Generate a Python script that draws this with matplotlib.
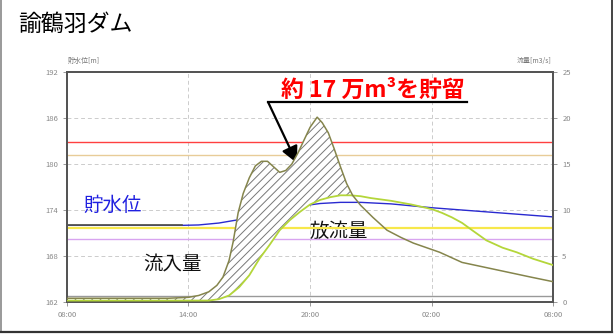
import matplotlib
matplotlib.use("Agg")
import matplotlib.pyplot as plt
from matplotlib.lines import Line2D
import numpy as np

plt.rcParams['font.family'] = ['Noto Sans CJK JP', 'DejaVu Sans']
plt.rcParams['hatch.linewidth'] = 0.7

# hours from 08:00 (8 = 08:00, 32 = next day 08:00)
t_in = [8, 12, 13, 14, 14.5, 15, 15.4, 15.7, 16.0, 16.2, 16.45, 16.7, 17.0, 17.3, 17.6,
        17.9, 18.2, 18.5, 18.8, 19.1, 19.4, 19.7, 20.0, 20.35, 20.6, 20.9, 21.2, 21.5,
        21.8, 22.1, 22.5, 23.1, 23.8, 24.5, 25.1, 26.4, 27.5, 29.2, 30.9, 32]
inflow = [0.4, 0.4, 0.4, 0.5, 0.7, 1.1, 1.8, 2.7, 4.5, 6.5, 9.7, 11.8, 13.5, 14.8, 15.3,
          15.3, 14.7, 14.1, 14.3, 15.0, 16.2, 17.6, 19.0, 20.1, 19.5, 18.4, 16.6, 14.7,
          12.9, 11.6, 10.5, 9.2, 7.8, 7.0, 6.4, 5.4, 4.3, 3.5, 2.7, 2.2]

t_out = [8, 13, 15, 15.5, 16, 16.5, 17, 17.5, 18, 18.5, 19, 19.5, 20, 20.5, 21, 21.5,
         22, 22.5, 23, 24, 25, 26, 26.5, 27, 27.5, 28, 28.7, 29.5, 30.2, 31, 32]
outflow = [0.15, 0.15, 0.15, 0.3, 0.7, 1.6, 2.9, 4.7, 6.2, 7.8, 8.9, 9.8, 10.6, 11.1, 11.4,
           11.6, 11.6, 11.5, 11.3, 11.0, 10.6, 10.1, 9.7, 9.2, 8.6, 7.8, 6.7, 5.9, 5.4,
           4.7, 4.0]

t_wl = [8, 13.7, 14.5, 15.5, 16.5, 17.5, 18.5, 19.5, 20.5, 21.5, 22.5, 24, 26, 28, 30, 32]
level = [172.0, 172.0, 172.05, 172.3, 172.75, 173.4, 174.0, 174.5, 174.85, 175.0, 175.0,
         174.8, 174.3, 173.9, 173.5, 173.1]

level_lines = [182.83, 181.17]
level_colors = ['#ff4040', '#e8cc98']
flow_lines = [8.0, 6.85, 0.65]
flow_colors = ['#f7e84a', '#d8a4f0', '#999999']

xticks = [8, 14, 20, 26, 32]
xlabels = ['08:00', '14:00', '20:00', '02:00', '08:00']
lticks = [162, 168, 174, 180, 186, 192]
rticks = [0, 5, 10, 15, 20, 25]

fig = plt.figure(figsize=(6.14, 3.34), dpi=100)
ax = fig.add_axes([0.109, 0.096, 0.792, 0.688])
ax2 = ax.twinx()

ax.set_xlim(8, 32)
ax.set_ylim(162, 192)
ax2.set_ylim(0, 25)

for v in lticks[1:-1]:
    ax.axhline(v, color='#cccccc', lw=0.7, ls=(0, (4, 3)), zorder=0)
for v in xticks[1:-1]:
    ax.axvline(v, color='#cccccc', lw=0.7, ls=(0, (4, 3)), zorder=0)

for v, c in zip(level_lines, level_colors):
    ax.axhline(v, color=c, lw=1.0, zorder=1)
for v, c in zip(flow_lines, flow_colors):
    ax2.axhline(v, color=c, lw=1.0 if c != '#f7e84a' else 1.6, zorder=1)

# water level: dark before rise, blue after
tw = np.array(t_wl)
lv = np.array(level)
ax.plot(tw, lv, color='#2a2ad0', lw=1.0, zorder=3)
ax.plot(tw[tw <= 13.7], lv[tw <= 13.7], color='#555544', lw=1.2, zorder=4)

# storage hatch between inflow and outflow
tt = np.linspace(8, 32, 600)
qi = np.interp(tt, t_in, inflow)
qo = np.interp(tt, t_out, outflow)
ax2.fill_between(tt, qo, qi, where=qi > qo, facecolor='white', edgecolor='#777777',
                 hatch='////', lw=0, zorder=2)
ax2.plot(t_out, outflow, color='#b4d63a', lw=1.3, zorder=3)
ax2.plot(t_in, inflow, color='#85854c', lw=1.1, zorder=4)

ax.set_xticks(xticks)
ax.set_xticklabels(xlabels)
ax.set_yticks(lticks)
ax2.set_yticks(rticks)
for a in (ax, ax2):
    a.tick_params(labelsize=5.5, colors='#888888', length=3, width=0.6)
    for s in a.spines.values():
        s.set_color('#555555')
        s.set_linewidth(1.4)

ax.text(0.095, 0.42, '貯水位', transform=ax.transAxes, color='#2020e0', fontsize=14,
        ha='center', va='center', zorder=6)
ax.text(0.218, 0.16, '流入量', transform=ax.transAxes, color='#111111', fontsize=14,
        ha='center', va='center', zorder=6)
ax.text(0.558, 0.305, '放流量', transform=ax.transAxes, color='#111111', fontsize=14,
        ha='center', va='center', zorder=6)

ax.text(0.63, 0.872, '約 17 万m³を貯留', transform=ax.transAxes, color='#ff0000',
        fontsize=16.5, fontweight='bold', ha='center', va='bottom', zorder=6)
ax.plot([0.823, 0.4136], [0.870, 0.870], transform=ax.transAxes, color='black', lw=1.6,
        zorder=6, clip_on=False)
ax.annotate('', xy=(0.473, 0.604), xytext=(0.4136, 0.870), xycoords='axes fraction',
            arrowprops=dict(arrowstyle='-|>,head_length=1.0,head_width=0.5', color='black',
                            lw=1.6, shrinkA=0, shrinkB=0), zorder=6)

fig.text(0.111, 0.806, '貯水位[m]', fontsize=5, color='#777777', ha='left', va='bottom')
fig.text(0.898, 0.806, '流量[m3/s]', fontsize=5, color='#777777', ha='right', va='bottom')
fig.text(0.029, 0.928, '諭鶴羽ダム', fontsize=16.5, color='black', ha='left', va='center')

# outer frame (left, right, bottom)
fig.add_artist(Line2D([0.002, 0.002], [0.005, 1.0], color='#888888', lw=1.2))
fig.add_artist(Line2D([0.997, 0.997], [0.005, 1.0], color='#444444', lw=1.4))
fig.add_artist(Line2D([0.002, 0.997], [0.007, 0.007], color='#333333', lw=1.6))

fig.savefig('out.png', dpi=100)
